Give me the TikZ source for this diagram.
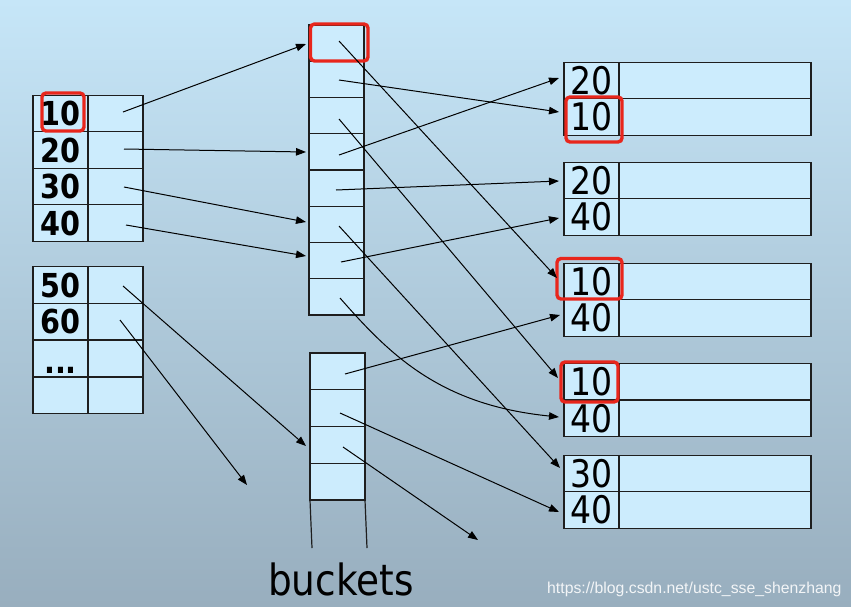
\documentclass[tikz,border=0pt]{standalone}
\usepackage{fontspec}
\setmainfont{DejaVu Sans}
\newfontfamily\tah[FakeStretch=0.87]{DejaVu Sans}
\newfontfamily\wmfont{Liberation Sans}
\usetikzlibrary{arrows.meta}
\definecolor{bgtop}{RGB}{198,230,248}
\definecolor{bgbot}{RGB}{152,174,190}
\definecolor{cellfill}{RGB}{204,236,253}
\definecolor{cellline}{RGB}{30,30,30}
\definecolor{hired}{RGB}{232,38,28}
\tikzset{
  cellbox/.style={draw=cellline, fill=cellfill, line width=1.3pt, inner sep=0pt, outer sep=0pt,
    minimum width=55pt, minimum height=36.5pt},
  keycell/.style={cellbox, font=\tah\bfseries\fontsize{33}{33}\selectfont},
  rkey/.style={cellbox, font=\tah\fontsize{38}{38}\selectfont},
  rval/.style={cellbox, minimum width=192pt},
  bucket/.style={cellbox, minimum height=36.25pt},
  redbox/.style={draw=hired, line width=3.4pt, rounded corners=4pt},
  arr/.style={line width=1pt, -{Triangle[length=10pt,width=7.5pt]}},
  plain/.style={line width=1.2pt}
}
\begin{document}
\begin{tikzpicture}[x=1pt,y=-1pt]
\fill[top color=bgtop, bottom color=bgbot] (0,0) rectangle (851,606);
\useasboundingbox (0,0) rectangle (851,606);

% left table 1
\foreach \t [count=\i] in {10,20,30,40} {
  \pgfmathsetmacro{\yy}{113.5+36.5*(\i-1)}
  \node[keycell] (la\i) at (60.5,\yy) {\t};
  \node[cellbox] (lav\i) at (115.5,\yy) {};
}
% left table 2
\foreach \t [count=\i] in {50,60,{},{}} {
  \pgfmathsetmacro{\yy}{285+36.7*(\i-1)}
  \node[keycell] (lb\i) at (60.5,\yy) {\t};
  \node[cellbox] (lbv\i) at (115.5,\yy) {};
}
\node[anchor=base, font=\tah\bfseries\fontsize{33}{33}\selectfont] (dots) at (60.5,373) {...};

% bucket column 1
\foreach \i in {1,...,8} {
  \pgfmathsetmacro{\yy}{43.1+36.25*(\i-1)}
  \node[bucket] (b\i) at (336.5,\yy) {};
}
% bucket column 2
\foreach \i in {1,...,4} {
  \pgfmathsetmacro{\yy}{371.4+36.75*(\i-1)}
  \node[bucket, minimum height=36.75pt] (c\i) at (337.5,\yy) {};
}
\coordinate (cl) at (312,548);
\coordinate (cr) at (367,548);
\draw[plain, draw=cellline] (c4.south west) -- (cl);
\draw[plain, draw=cellline] (c4.south east) -- (cr);
\node[anchor=base, font=\tah\fontsize{43}{43}\selectfont] (bktext) at (341,595) {buckets};

% right tables
\foreach \n/\ya/\yb/\ta/\tb in {A/80.5/117/20/10, B/181/217/20/40, C/281.5/318/10/40, D/381.5/418.5/10/40, E/473.5/510/30/40} {
  \node[rkey] (\n1) at (591.5,\ya) {\ta};
  \node[rval] (\n1v) at (715,\ya) {};
  \node[rkey] (\n2) at (591.5,\yb) {\tb};
  \node[rval] (\n2v) at (715,\yb) {};
}

% red highlights
\draw[redbox] (42,93) rectangle (84,131);
\draw[redbox] (310.5,24) rectangle (368,61);
\draw[redbox] (566,97) rectangle (622,142);
\draw[redbox] (557,258.5) rectangle (622,299);
\draw[redbox] (561,362) rectangle (618,402);

% connector end points
\coordinate (s1) at (123,112);  \coordinate (t1) at (306,44);
\coordinate (s2) at (124,149);  \coordinate (t2) at (306,152);
\coordinate (s3) at (124,187);  \coordinate (t3) at (306,222);
\coordinate (s4) at (126,225);  \coordinate (t4) at (306,256);
\coordinate (s5) at (123,286);  \coordinate (t5) at (306,446);
\coordinate (s6) at (120,320);  \coordinate (t6) at (247,485);
\coordinate (p1) at (339,41);   \coordinate (q1) at (557,278);
\coordinate (p2) at (339,80);   \coordinate (q2) at (559,112);
\coordinate (p3) at (339,119);  \coordinate (q3) at (558,378);
\coordinate (p4) at (339,155);  \coordinate (q4) at (559,78);
\coordinate (p5) at (336,190);  \coordinate (q5) at (559,181);
\coordinate (p6) at (339,226);  \coordinate (q6) at (560,468);
\coordinate (p7) at (341,262);  \coordinate (q7) at (559,218);
\coordinate (p8) at (340,298);  \coordinate (q8) at (559,417);
\coordinate (r1) at (345,374);  \coordinate (u1) at (560,315);
\coordinate (r2) at (340,413);  \coordinate (u2) at (559,512);
\coordinate (r3) at (343,447);  \coordinate (u3) at (478,540);

\foreach \k in {1,...,6} { \draw[arr] (s\k) -- (t\k); }
\foreach \k in {1,...,7} { \draw[arr] (p\k) -- (q\k); }
\draw[arr] (p8) .. controls (390,355) and (440,405) .. (q8);
\foreach \k in {1,2,3} { \draw[arr] (r\k) -- (u\k); }

% watermark
\node[anchor=base west, inner sep=0pt, text=white!88!bgbot, font=\wmfont\fontsize{15.8}{15.8}\selectfont] (wm) at (547,593) {https://blog.csdn.net/ustc\_sse\_shenzhang};
\end{tikzpicture}
\end{document}
